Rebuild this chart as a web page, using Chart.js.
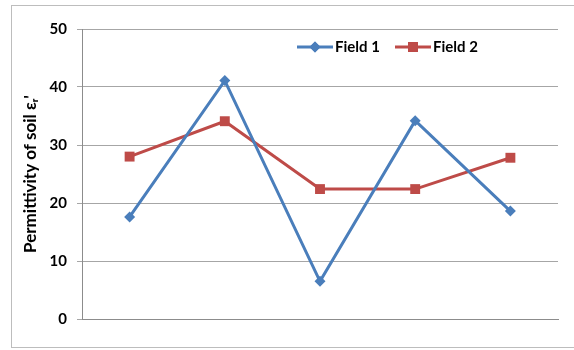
<!DOCTYPE html>
<html>
<head>
<meta charset="utf-8">
<script src="https://cdn.jsdelivr.net/npm/chart.js@4/dist/chart.umd.min.js"></script>
<style>
    html, body { margin: 0; padding: 0; background: #fff; }
    #wrap { position: relative; width: 574px; height: 350px; }
</style>
</head>
<body>
<div id="wrap"><canvas id="permittivity-chart"></canvas></div>
<script>
const categories = ["1", "2", "3", "4", "5"];
const field1 = [17.6, 41.1, 6.5, 34.2, 18.6];
const field2 = [28.0, 34.1, 22.4, 22.4, 27.8];
const yTicks = [0, 10, 20, 30, 40, 50];

const blue = "#4a7ebb";
const red = "#be4b48";
const font = "Lato, 'DejaVu Sans', sans-serif";

// outer frame + legend drawn over the plot, like the Excel original
const framePlugin = {
    id: "frame",
    beforeDraw(chart) {
        const c = chart.ctx;
        c.save();
        c.strokeStyle = "#bdbdbd";
        c.lineWidth = 1;
        c.strokeRect(11.5, 5.5, 600, 342);
        c.restore();
    },
    afterDraw(chart) {
        const c = chart.ctx;
        const items = [
            { label: "Field 1", color: blue, style: "rectRot", radius: 5.5, x: 297 },
            { label: "Field 2", color: red, style: "rect", radius: 7, x: 395 }
        ];
        const y = 47;
        c.save();
        items.forEach(it => {
            c.strokeStyle = it.color;
            c.lineWidth = 3;
            c.beginPath();
            c.moveTo(it.x, y);
            c.lineTo(it.x + 36, y);
            c.stroke();
            c.fillStyle = it.color;
            Chart.helpers.drawPoint(c, { pointStyle: it.style, radius: it.radius, borderWidth: 0 }, it.x + 18, y);
            c.fill();
            c.fillStyle = "#000";
            c.font = "bold 15px " + font;
            c.textBaseline = "middle";
            c.fillText(it.label, it.x + 38, y);
        });
        c.restore();
    }
};

const chartData = {
    labels: categories,
    datasets: [
        {
            label: "Field 1",
            data: field1,
            borderColor: blue,
            backgroundColor: blue,
            borderWidth: 3,
            pointStyle: "rectRot",
            pointRadius: 5.5,
            pointHoverRadius: 5.5,
            pointBorderWidth: 0,
            tension: 0
        },
        {
            label: "Field 2",
            data: field2,
            borderColor: red,
            backgroundColor: red,
            borderWidth: 3,
            pointStyle: "rect",
            pointRadius: 7,
            pointHoverRadius: 7,
            pointBorderWidth: 0,
            tension: 0
        }
    ]
};

const chartOptions = {
    responsive: true,
    maintainAspectRatio: false,
    animation: false,
    layout: {
        padding: { left: 0, right: 16, top: 29, bottom: 31 }
    },
    plugins: {
        legend: { display: false },
        tooltip: { enabled: false }
    },
    scales: {
        x: {
            offset: true,
            grid: { display: false },
            border: { display: true, color: "#8c8c8c", width: 1 },
            ticks: { display: false },
            afterFit(scale) { scale.height = 0; }
        },
        y: {
            min: 0,
            max: 50,
            afterBuildTicks(scale) {
                scale.ticks = yTicks.map(v => ({ value: v }));
            },
            afterFit(scale) { scale.width = 82; },
            grid: {
                color: "#a6a6a6",
                lineWidth: 1,
                drawTicks: true,
                tickLength: 5
            },
            border: { display: true, color: "#8c8c8c", width: 1 },
            ticks: {
                padding: 10,
                color: "#000",
                font: { family: font, size: 15, weight: "bold" }
            },
            title: {
                display: true,
                text: "Permittivity of soil \u03b5\u1d63'",
                color: "#000",
                padding: { top: 20, bottom: 0 },
                font: { family: font, size: 17, weight: "bold" }
            }
        }
    }
};

new Chart(document.getElementById("permittivity-chart"), {
    type: "line",
    data: chartData,
    options: chartOptions,
    plugins: [framePlugin]
});
</script>
</body>
</html>
